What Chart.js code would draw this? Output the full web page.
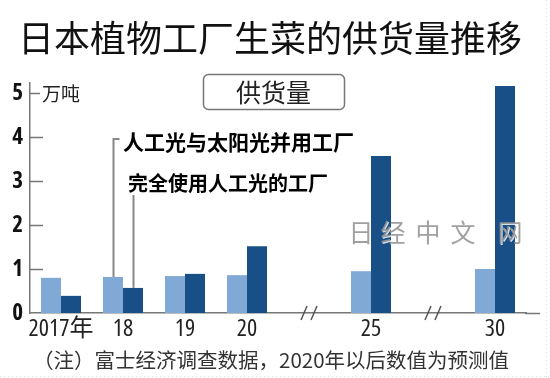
<!DOCTYPE html>
<html>
<head>
<meta charset="utf-8">
<script src="https://cdn.jsdelivr.net/npm/chart.js@4/dist/chart.umd.min.js"></script>
<style>
  html, body { margin: 0; padding: 0; background: #fff; }
  #wrap { width: 550px; height: 378px; position: relative; }
</style>
</head>
<body>
<div id="wrap"><canvas id="c" width="550" height="378"></canvas></div>
<script>
// ---- data ----
const categories = ["2017年", "18", "19", "20", "", "25", "", "30"];
const mixedFactory = [0.80, 0.82, 0.84, 0.86, null, 0.95, null, 1.00];   // 人工光与太阳光并用工厂
const artificialFactory = [0.39, 0.57, 0.89, 1.52, null, 3.57, null, 5.16]; // 完全使用人工光的工厂
const yTicks = [0, 1, 2, 3, 4, 5];
const breakSlots = [4, 6];

const titleText = "日本植物工厂生菜的供货量推移";
const legendText = "供货量";
const seriesNames = ["人工光与太阳光并用工厂", "完全使用人工光的工厂"];
const unitText = "万吨";
const noteText = "（注）富士经济调查数据，2020年以后数值为预测值";
const watermarkText = "日经中文网";

const CJK = '"Noto Sans CJK SC", "Noto Sans", sans-serif';
const NARROW = '"Open Sans", "Noto Sans CJK SC", sans-serif';

const decor = {
  id: 'decor',
  afterDraw(chart) {
    const ctx = chart.ctx;
    const ca = chart.chartArea;
    const y = chart.scales.y, x = chart.scales.x;
    ctx.save();
    // title
    ctx.fillStyle = '#111';
    ctx.font = '36px ' + CJK;
    ctx.textAlign = 'left';
    ctx.textBaseline = 'middle';
    ctx.fillText(titleText, 18, 38);
    // legend box
    ctx.strokeStyle = '#777';
    ctx.lineWidth = 1.5;
    ctx.beginPath();
    ctx.roundRect(203.5, 74.5, 141, 35, 5);
    ctx.stroke();
    ctx.fillStyle = '#222';
    ctx.font = '25px ' + CJK;
    ctx.textAlign = 'center';
    ctx.fillText(legendText, 273.5, 92);
    // y inward ticks
    ctx.strokeStyle = '#777';
    ctx.lineWidth = 1.5;
    yTicks.forEach(v => {
      if (v === 0) return;
      const py = Math.round(y.getPixelForValue(v)) + 0.5;
      ctx.beginPath();
      ctx.moveTo(ca.left, py);
      ctx.lineTo(ca.left + (v === 5 ? 10 : 13), py);
      ctx.stroke();
    });
    // unit label
    ctx.fillStyle = '#222';
    ctx.font = '19px ' + CJK;
    ctx.textAlign = 'left';
    ctx.fillText(unitText, 42, y.getPixelForValue(5) + 1);
    // x axis extension
    ctx.beginPath();
    ctx.moveTo(ca.right - 1, ca.bottom + 0.5);
    ctx.lineTo(540, ca.bottom + 0.5);
    ctx.stroke();
    // break marks
    ctx.strokeStyle = '#555';
    ctx.lineWidth = 1.5;
    breakSlots.forEach(i => {
      const px = x.getPixelForValue(i);
      [-5, 5].forEach(dx => {
        ctx.beginPath();
        ctx.moveTo(px + dx - 3, ca.bottom + 7);
        ctx.lineTo(px + dx + 3, ca.bottom - 7);
        ctx.stroke();
      });
    });
    // annotations
    const m0 = chart.getDatasetMeta(0).data[1];
    const m1 = chart.getDatasetMeta(1).data[1];
    ctx.strokeStyle = '#888';
    ctx.lineWidth = 2;
    const lx0 = Math.round(m0.x) + 0.5;
    ctx.beginPath();
    ctx.moveTo(lx0 + 6, 139);
    ctx.lineTo(lx0, 139);
    ctx.lineTo(lx0, m0.y);
    ctx.stroke();
    const lx1 = Math.round(m1.x) + 0.5;
    ctx.beginPath();
    ctx.moveTo(lx1, 195);
    ctx.lineTo(lx1, m1.y);
    ctx.stroke();
    ctx.fillStyle = '#000';
    ctx.textAlign = 'left';
    ctx.font = 'bold 21px ' + CJK;
    ctx.fillText(seriesNames[0], 123, 142);
    ctx.font = 'bold 20px ' + CJK;
    ctx.fillText(seriesNames[1], 128, 183);
    // watermark
    ctx.font = '25px ' + CJK;
    ctx.fillStyle = 'rgba(150,150,150,0.9)';
    ctx.shadowColor = 'rgba(255,255,255,0.9)';
    ctx.shadowOffsetX = 1; ctx.shadowOffsetY = 1; ctx.shadowBlur = 0;
    ctx.textAlign = 'center';
    const wxs = [361, 393, 428, 463, 510];
    [...watermarkText].forEach((ch, i) => ctx.fillText(ch, wxs[i], 232));
    ctx.shadowColor = 'transparent';
    // note
    ctx.fillStyle = '#333';
    ctx.font = '20.5px ' + CJK;
    ctx.textAlign = 'left';
    ctx.fillText(noteText, 33, 360);
    // faint dotted frame
    ctx.strokeStyle = '#ddd';
    ctx.lineWidth = 1;
    ctx.setLineDash([1, 3]);
    ctx.beginPath();
    ctx.moveTo(0, 376.5); ctx.lineTo(550, 376.5);
    ctx.moveTo(546.5, 0); ctx.lineTo(546.5, 378);
    ctx.stroke();
    ctx.restore();
  }
};

new Chart(document.getElementById('c'), {
  type: 'bar',
  data: {
    labels: categories,
    datasets: [
      { label: seriesNames[0], data: mixedFactory, backgroundColor: '#80a9d6', borderWidth: 0,
        categoryPercentage: 0.645, barPercentage: 1.0 },
      { label: seriesNames[1], data: artificialFactory, backgroundColor: '#174f86', borderWidth: 0,
        categoryPercentage: 0.645, barPercentage: 1.0 }
    ]
  },
  options: {
    responsive: false,
    animation: false,
    devicePixelRatio: 1,
    layout: { padding: { top: 83, right: 24, left: 0, bottom: 0 } },
    plugins: { legend: { display: false }, tooltip: { enabled: false }, title: { display: false } },
    scales: {
      x: {
        grid: { display: false, drawTicks: false },
        border: { display: true, color: '#777', width: 1.5 },
        ticks: { color: '#222', font: { family: NARROW, size: 24, weight: 'normal condensed' }, padding: 2, maxRotation: 0, autoSkip: false },
        afterFit(s) { s.height = 65; }
      },
      y: {
        min: 0, max: 5.23,
        grid: { display: false, drawTicks: false },
        border: { display: true, color: '#777', width: 1.5 },
        ticks: { color: '#111', font: { family: NARROW, size: 23, weight: 'bold condensed' }, padding: 7 },
        afterBuildTicks(s) { s.ticks = yTicks.map(v => ({ value: v })); },
        afterFit(s) { s.width = 30; }
      }
    }
  },
  plugins: [decor]
});
</script>
</body>
</html>
